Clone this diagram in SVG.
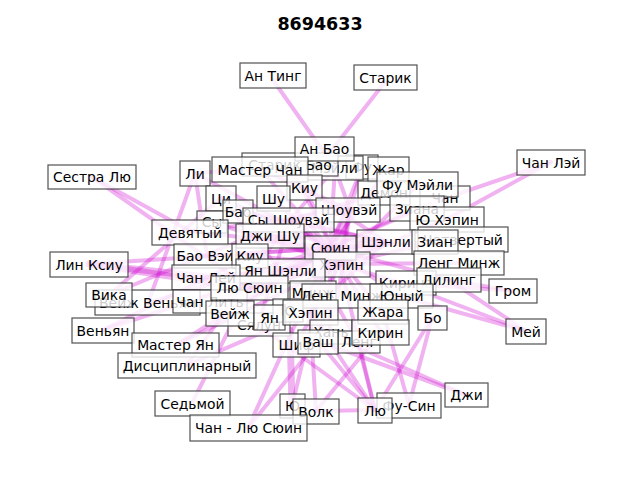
<svg xmlns="http://www.w3.org/2000/svg" width="640" height="480" viewBox="0 0 640 480">
<style>
.e{stroke:#cc00cc;stroke-opacity:0.3;stroke-width:4;stroke-linecap:round}
.t{stroke-width:7}
.n rect{fill:#ffffff;fill-opacity:0.8;stroke:#333333;stroke-opacity:0.85;stroke-width:1.2}
.n text{font-family:"DejaVu Sans","Liberation Sans",sans-serif;font-size:13.9px;fill:#000;text-anchor:middle;dominant-baseline:central}
.title{font-family:"DejaVu Sans","Liberation Sans",sans-serif;font-size:17.5px;font-weight:bold;text-anchor:middle}
</style>
<rect width="640" height="480" fill="#fff"/>
<text class="title" x="320" y="30">8694633</text>
<g id="connectors">
<line class="e" x1="273" y1="80" x2="335" y2="168"/>
<line class="e" x1="385" y1="82" x2="320" y2="165"/>
<line class="e" x1="551" y1="162" x2="417" y2="208"/>
<line class="e" x1="551" y1="162" x2="447" y2="219"/>
<line class="e" x1="92" y1="177" x2="190" y2="231"/>
<line class="e" x1="92" y1="177" x2="250" y2="288"/>
<line class="e" x1="195" y1="173" x2="207" y2="256"/>
<line class="e" x1="195" y1="173" x2="148" y2="303"/>
<line class="e" x1="195" y1="173" x2="330" y2="248"/>
<line class="e" x1="195" y1="173" x2="260" y2="169"/>
<line class="e t" x1="89" y1="264" x2="206" y2="277"/>
<line class="e t" x1="89" y1="264" x2="250" y2="288"/>
<line class="e" x1="89" y1="264" x2="330" y2="248"/>
<line class="e" x1="109" y1="295" x2="221" y2="198"/>
<line class="e" x1="109" y1="295" x2="290" y2="220"/>
<line class="e" x1="103" y1="330" x2="281" y2="271"/>
<line class="e" x1="103" y1="330" x2="250" y2="256"/>
<line class="e" x1="176" y1="345" x2="330" y2="248"/>
<line class="e" x1="176" y1="345" x2="340" y2="264"/>
<line class="e" x1="187" y1="365" x2="290" y2="220"/>
<line class="e" x1="187" y1="365" x2="310" y2="312"/>
<line class="e" x1="192" y1="403" x2="250" y2="288"/>
<line class="e" x1="248" y1="428" x2="318" y2="341"/>
<line class="e" x1="248" y1="428" x2="330" y2="248"/>
<line class="e t" x1="292" y1="406" x2="290" y2="330"/>
<line class="e" x1="292" y1="406" x2="330" y2="248"/>
<line class="e" x1="316" y1="411" x2="375" y2="410"/>
<line class="e" x1="316" y1="411" x2="381" y2="332"/>
<line class="e" x1="316" y1="411" x2="310" y2="312"/>
<line class="e" x1="375" y1="410" x2="318" y2="341"/>
<line class="e" x1="375" y1="410" x2="310" y2="312"/>
<line class="e" x1="375" y1="410" x2="358" y2="343"/>
<line class="e" x1="375" y1="410" x2="258" y2="325"/>
<line class="e" x1="375" y1="410" x2="340" y2="264"/>
<line class="e" x1="409" y1="405" x2="432" y2="318"/>
<line class="e" x1="409" y1="405" x2="383" y2="312"/>
<line class="e" x1="466" y1="395" x2="318" y2="341"/>
<line class="e" x1="466" y1="395" x2="330" y2="335"/>
<line class="e" x1="526" y1="331" x2="400" y2="283"/>
<line class="e" x1="526" y1="331" x2="400" y2="296"/>
<line class="e" x1="526" y1="331" x2="449" y2="280"/>
<line class="e" x1="513" y1="291" x2="400" y2="283"/>
<line class="e" x1="513" y1="291" x2="449" y2="280"/>
<line class="e" x1="432" y1="318" x2="375" y2="410"/>
<line class="e" x1="260" y1="169" x2="330" y2="248"/>
<line class="e" x1="260" y1="169" x2="350" y2="210"/>
<line class="e" x1="290" y1="165" x2="340" y2="264"/>
<line class="e" x1="335" y1="168" x2="350" y2="210"/>
<line class="e" x1="335" y1="168" x2="330" y2="248"/>
<line class="e" x1="335" y1="168" x2="290" y2="220"/>
<line class="e" x1="305" y1="188" x2="340" y2="264"/>
<line class="e" x1="305" y1="188" x2="386" y2="242"/>
<line class="e" x1="362" y1="167" x2="330" y2="248"/>
<line class="e" x1="362" y1="167" x2="350" y2="210"/>
<line class="e" x1="388" y1="169" x2="330" y2="248"/>
<line class="e" x1="418" y1="184" x2="340" y2="264"/>
<line class="e" x1="385" y1="192" x2="290" y2="220"/>
<line class="e" x1="447" y1="197" x2="330" y2="248"/>
<line class="e" x1="221" y1="198" x2="330" y2="248"/>
<line class="e" x1="221" y1="198" x2="281" y2="271"/>
<line class="e" x1="273" y1="198" x2="340" y2="264"/>
<line class="e" x1="238" y1="211" x2="386" y2="242"/>
<line class="e" x1="212" y1="222" x2="340" y2="264"/>
<line class="e t" x1="290" y1="220" x2="350" y2="210"/>
<line class="e t" x1="290" y1="220" x2="330" y2="248"/>
<line class="e" x1="290" y1="220" x2="386" y2="242"/>
<line class="e" x1="290" y1="220" x2="340" y2="264"/>
<line class="e t" x1="270" y1="236" x2="340" y2="264"/>
<line class="e" x1="270" y1="236" x2="386" y2="242"/>
<line class="e" x1="190" y1="231" x2="330" y2="248"/>
<line class="e" x1="190" y1="231" x2="290" y2="220"/>
<line class="e t" x1="350" y1="210" x2="330" y2="248"/>
<line class="e" x1="350" y1="210" x2="340" y2="264"/>
<line class="e" x1="417" y1="208" x2="330" y2="248"/>
<line class="e" x1="447" y1="219" x2="340" y2="264"/>
<line class="e" x1="463" y1="240" x2="330" y2="248"/>
<line class="e" x1="386" y1="242" x2="340" y2="264"/>
<line class="e t" x1="386" y1="242" x2="330" y2="248"/>
<line class="e" x1="435" y1="242" x2="340" y2="264"/>
<line class="e t" x1="330" y1="248" x2="340" y2="264"/>
<line class="e" x1="207" y1="256" x2="330" y2="248"/>
<line class="e" x1="250" y1="256" x2="340" y2="264"/>
<line class="e" x1="206" y1="277" x2="340" y2="264"/>
<line class="e t" x1="281" y1="271" x2="330" y2="248"/>
<line class="e" x1="281" y1="271" x2="386" y2="242"/>
<line class="e" x1="340" y1="264" x2="400" y2="283"/>
<line class="e" x1="459" y1="263" x2="340" y2="264"/>
<line class="e" x1="449" y1="280" x2="330" y2="248"/>
<line class="e" x1="250" y1="288" x2="330" y2="248"/>
<line class="e" x1="250" y1="288" x2="340" y2="264"/>
<line class="e" x1="148" y1="303" x2="330" y2="248"/>
<line class="e" x1="215" y1="300" x2="340" y2="264"/>
<line class="e" x1="310" y1="292" x2="330" y2="248"/>
<line class="e" x1="338" y1="296" x2="350" y2="210"/>
<line class="e" x1="400" y1="296" x2="330" y2="248"/>
<line class="e" x1="230" y1="314" x2="330" y2="248"/>
<line class="e" x1="269" y1="318" x2="340" y2="264"/>
<line class="e" x1="258" y1="325" x2="290" y2="220"/>
<line class="e" x1="310" y1="312" x2="330" y2="248"/>
<line class="e" x1="310" y1="312" x2="386" y2="242"/>
<line class="e" x1="383" y1="312" x2="330" y2="248"/>
<line class="e" x1="296" y1="345" x2="340" y2="264"/>
<line class="e" x1="318" y1="341" x2="350" y2="210"/>
<line class="e" x1="330" y1="335" x2="330" y2="248"/>
<line class="e" x1="381" y1="332" x2="340" y2="264"/>
<line class="e" x1="358" y1="343" x2="290" y2="220"/>
</g>
<g id="n_antg" class="n"><rect x="240" y="63" width="66" height="25"/><text x="273" y="75.5">Ан Тинг</text></g>
<g id="n_star" class="n"><rect x="354" y="65" width="63" height="25"/><text x="385.5" y="77.5">Старик</text></g>
<g id="n_chanlei" class="n"><rect x="517" y="150" width="68" height="25"/><text x="551" y="162.5">Чан Лэй</text></g>
<g id="n_sestra" class="n"><rect x="48" y="165" width="88" height="24"/><text x="92" y="177">Сестра Лю</text></g>
<g id="n_fu" class="n"><rect x="346" y="155" width="32" height="24"/><text x="362" y="167">Фу</text></g>
<g id="n_meili" class="n"><rect x="306" y="156" width="57" height="24"/><text x="334.5" y="168">Мэйли</text></g>
<g id="n_starbao" class="n"><rect x="242" y="153" width="96" height="23"/><text x="290" y="164.5">Старик Бао</text></g>
<g id="n_anbao" class="n"><rect x="295" y="137" width="59" height="24"/><text x="324.5" y="149">Ан Бао</text></g>
<g id="n_li" class="n"><rect x="180" y="161" width="30" height="25"/><text x="195" y="173.5">Ли</text></g>
<g id="n_mchan" class="n"><rect x="212" y="157" width="96" height="25"/><text x="260" y="169.5">Мастер Чан</text></g>
<g id="n_zhar" class="n"><rect x="368" y="157" width="41" height="25"/><text x="388.5" y="169.5">Жар</text></g>
<g id="n_demon" class="n"><rect x="358" y="181" width="52" height="24"/><text x="384" y="193">Демон</text></g>
<g id="n_chan" class="n"><rect x="420" y="186" width="50" height="24"/><text x="445" y="198">Чан</text></g>
<g id="n_fumeili" class="n"><rect x="377" y="172" width="81" height="25"/><text x="417.5" y="184.5">Фу Мэйли</text></g>
<g id="n_kiu1" class="n"><rect x="287" y="175" width="35" height="25"/><text x="304.5" y="187.5">Киу</text></g>
<g id="n_ci" class="n"><rect x="206" y="186" width="30" height="25"/><text x="221" y="198.5">Ци</text></g>
<g id="n_shu" class="n"><rect x="257" y="186" width="33" height="25"/><text x="273.5" y="198.5">Шу</text></g>
<g id="n_sy" class="n"><rect x="197" y="211" width="30" height="22"/><text x="212" y="222">Сы</text></g>
<g id="n_bao" class="n"><rect x="223" y="200" width="30" height="23"/><text x="238" y="211.5">Бао</text></g>
<g id="n_shouvei" class="n"><rect x="316" y="198" width="64" height="24"/><text x="349" y="210">Шоувэй</text></g>
<g id="n_syshou" class="n"><rect x="243" y="208" width="91" height="24"/><text x="288.5" y="220">Сы Шоувэй</text></g>
<g id="n_ziana" class="n"><rect x="390" y="196" width="54" height="25"/><text x="417" y="208.5">Зиана</text></g>
<g id="n_yuhepin" class="n"><rect x="410" y="207" width="74" height="25"/><text x="447" y="219.5">Ю Хэпин</text></g>
<g id="n_devyat" class="n"><rect x="152" y="220" width="76" height="25"/><text x="190" y="232.5">Девятый</text></g>
<g id="n_djishu" class="n"><rect x="236" y="224" width="68" height="24"/><text x="270" y="236">Джи Шу</text></g>
<g id="n_chetv" class="n"><rect x="418" y="227" width="90" height="25"/><text x="463" y="239.5">Четвертый</text></g>
<g id="n_shenli" class="n"><rect x="357" y="230" width="58" height="24"/><text x="386" y="242">Шэнли</text></g>
<g id="n_zian" class="n"><rect x="412" y="230" width="46" height="24"/><text x="435" y="242">Зиан</text></g>
<g id="n_syuin" class="n"><rect x="305" y="236" width="51" height="24"/><text x="330.5" y="248">Сюин</text></g>
<g id="n_baovei" class="n"><rect x="174" y="244" width="62" height="24"/><text x="205" y="256">Бао Вэй</text></g>
<g id="n_kiu2" class="n"><rect x="232" y="244" width="36" height="24"/><text x="250" y="256">Киу</text></g>
<g id="n_hepin1" class="n"><rect x="313" y="252" width="57" height="25"/><text x="341.5" y="264.5">Хэпин</text></g>
<g id="n_yanshenli" class="n"><rect x="236" y="259" width="89" height="24"/><text x="280.5" y="271">Ян Шэнли</text></g>
<g id="n_lengminzh" class="n"><rect x="414" y="251" width="90" height="24"/><text x="459" y="263">Ленг Минж</text></g>
<g id="n_linksiu" class="n"><rect x="50" y="252" width="78" height="25"/><text x="89" y="264.5">Лин Ксиу</text></g>
<g id="n_chanlei2" class="n"><rect x="172" y="265" width="68" height="25"/><text x="206" y="277.5">Чан Лей</text></g>
<g id="n_kirina" class="n"><rect x="376" y="271" width="60" height="24"/><text x="406" y="283">Кирина</text></g>
<g id="n_liling" class="n"><rect x="417" y="268" width="64" height="24"/><text x="449" y="280">Лилинг</text></g>
<g id="n_grom" class="n"><rect x="489" y="279" width="48" height="24"/><text x="513" y="291">Гром</text></g>
<g id="n_veizhven" class="n"><rect x="95" y="290" width="105" height="25"/><text x="147.5" y="302.5">Вейж Веньян</text></g>
<g id="n_vika" class="n"><rect x="86" y="283" width="46" height="24"/><text x="109" y="295">Вика</text></g>
<g id="n_chanlit" class="n"><rect x="173" y="290" width="74" height="23"/><text x="210" y="301.5">Чан Лить</text></g>
<g id="n_lyusyuin" class="n"><rect x="211" y="276" width="77" height="24"/><text x="249.5" y="288">Лю Сюин</text></g>
<g id="n_minzh" class="n"><rect x="290" y="281" width="46" height="24"/><text x="313" y="293">Минж</text></g>
<g id="n_lengmin2" class="n"><rect x="302" y="284" width="80" height="24"/><text x="342" y="296">Ленг Минж</text></g>
<g id="n_yuny" class="n"><rect x="370" y="284" width="63" height="24"/><text x="401.5" y="296">Юный</text></g>
<g id="n_venyan" class="n"><rect x="72" y="318" width="62" height="25"/><text x="103" y="330.5">Веньян</text></g>
<g id="n_syalun" class="n"><rect x="228" y="313" width="62" height="23"/><text x="259" y="324.5">Сялун</text></g>
<g id="n_yu1" class="n"><rect x="273" y="299" width="30" height="23"/><text x="288" y="310.5">Ю</text></g>
<g id="n_veizh" class="n"><rect x="206" y="301" width="48" height="25"/><text x="230" y="313.5">Вейж</text></g>
<g id="n_yan" class="n"><rect x="254" y="305" width="31" height="25"/><text x="269.5" y="317.5">Ян</text></g>
<g id="n_hepin2" class="n"><rect x="283" y="300" width="55" height="25"/><text x="310.5" y="312.5">Хэпин</text></g>
<g id="n_zhara" class="n"><rect x="358" y="300" width="50" height="24"/><text x="383" y="312">Жара</text></g>
<g id="n_bo" class="n"><rect x="418" y="306" width="29" height="24"/><text x="432.5" y="318">Бо</text></g>
<g id="n_han" class="n"><rect x="310" y="320" width="42" height="24"/><text x="331" y="332">Хань</text></g>
<g id="n_leng" class="n"><rect x="338" y="331" width="42" height="22"/><text x="359" y="342">Ленг</text></g>
<g id="n_kirin" class="n"><rect x="352" y="320" width="57" height="25"/><text x="380.5" y="332.5">Кирин</text></g>
<g id="n_shif" class="n"><rect x="273" y="333" width="47" height="24"/><text x="296.5" y="345">Шиф</text></g>
<g id="n_vash" class="n"><rect x="298" y="330" width="40" height="24"/><text x="318" y="342">Ваш</text></g>
<g id="n_mei" class="n"><rect x="506" y="319" width="40" height="25"/><text x="526" y="331.5">Мей</text></g>
<g id="n_mastyan" class="n"><rect x="132" y="333" width="87" height="24"/><text x="175.5" y="345">Мастер Ян</text></g>
<g id="n_discip" class="n"><rect x="118" y="353" width="138" height="25"/><text x="187" y="365.5">Дисциплинарный</text></g>
<g id="n_dji" class="n"><rect x="445" y="383" width="43" height="24"/><text x="466.5" y="395">Джи</text></g>
<g id="n_sedmoy" class="n"><rect x="155" y="391" width="75" height="25"/><text x="192.5" y="403.5">Седьмой</text></g>
<g id="n_yu2" class="n"><rect x="280" y="394" width="25" height="24"/><text x="292.5" y="406">Ю</text></g>
<g id="n_volk" class="n"><rect x="293" y="399" width="46" height="25"/><text x="316" y="411.5">Волк</text></g>
<g id="n_fusin" class="n"><rect x="377" y="393" width="64" height="25"/><text x="409" y="405.5">Фу-Син</text></g>
<g id="n_lyu" class="n"><rect x="358" y="398" width="34" height="25"/><text x="375" y="410.5">Лю</text></g>
<g id="n_chanlyu" class="n"><rect x="190" y="415" width="117" height="26"/><text x="248.5" y="428">Чан - Лю Сюин</text></g>
</svg>
